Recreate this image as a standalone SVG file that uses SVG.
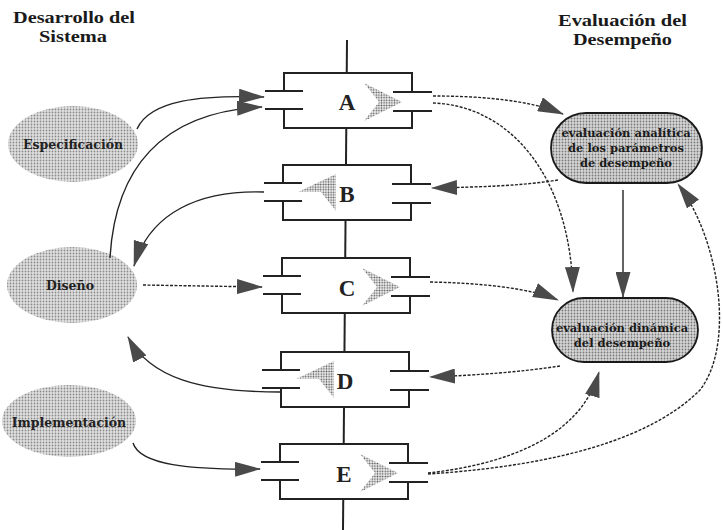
<svg xmlns="http://www.w3.org/2000/svg" xmlns:xlink="http://www.w3.org/1999/xlink" width="723" height="530" viewBox="0 0 723 530">
<style>
.title{font-family:"Liberation Serif","Times New Roman",serif;font-weight:bold;font-size:17px;fill:#1a1a1a}
.ltxt{font-family:"DejaVu Serif","Liberation Serif",serif;font-weight:bold;font-size:12.5px;fill:#222;text-anchor:middle}
.rtxt{font-family:"DejaVu Serif","Liberation Serif",serif;font-weight:bold;font-size:11.5px;fill:#1a1a1a;text-anchor:middle}
.let{font-family:"Liberation Serif","Times New Roman",serif;font-weight:bold;font-size:23px;fill:#222;text-anchor:middle}
.frame{fill:none;stroke:#222;stroke-width:2}
.con{fill:none;stroke:#222;stroke-width:1.4}
.dash{stroke-dasharray:3 1.5}
</style>
<defs>
<pattern id="stipL" width="3" height="3" patternUnits="userSpaceOnUse">
<rect width="3" height="3" fill="#e0e0e0"/><circle cx="1.5" cy="1.5" r="0.9" fill="#8a8a8a"/>
</pattern>
<pattern id="stipR" width="3" height="3" patternUnits="userSpaceOnUse">
<rect width="3" height="3" fill="#d6d6d6"/><circle cx="1.5" cy="1.5" r="0.9" fill="#777"/>
</pattern>
<pattern id="stipC" width="2.6" height="2.6" patternUnits="userSpaceOnUse">
<rect width="2.6" height="2.6" fill="#f4f4f4"/><circle cx="1.3" cy="1.3" r="0.85" fill="#555"/>
</pattern>
<marker id="ah" viewBox="0 0 26 15" refX="25" refY="7.5" markerWidth="26" markerHeight="15" markerUnits="userSpaceOnUse" orient="auto">
<path d="M0,0 L26,7.5 L0,15 z" fill="#4a4a4a"/>
</marker>
<g id="frm">
<rect x="0" y="0" width="128" height="55" fill="#fff"/>
<path class="frame" d="M0,18 V0 H128 V19 M128,38 V55 H0 V36 M-19,18 H19 M-19,36 H19 M109,19 H148 M109,38 H148"/>
</g>
<polygon id="chevR" points="80,10 118,29 80,48 95,29" fill="url(#stipC)"/>
<polygon id="chevL" points="15,27 53,9 53,46 38,27" fill="url(#stipC)"/>
</defs>
<rect width="723" height="530" fill="#fff"/>

<g id="titles">
<text class="title" x="13" y="23" textLength="122" lengthAdjust="spacingAndGlyphs">Desarrollo del</text>
<text class="title" x="39" y="42" textLength="68" lengthAdjust="spacingAndGlyphs">Sistema</text>
<text class="title" x="558" y="26" textLength="129" lengthAdjust="spacingAndGlyphs">Evaluación del</text>
<text class="title" x="573" y="45" textLength="99" lengthAdjust="spacingAndGlyphs">Desempeño</text>
</g>

<line x1="347" y1="40" x2="343" y2="530" stroke="#222" stroke-width="2"/>

<g id="boxA" transform="translate(284,73)">
<use xlink:href="#frm"/><use xlink:href="#chevR"/>
<text class="let" x="63" y="37">A</text>
</g>
<g id="boxB" transform="translate(283,165)">
<use xlink:href="#frm"/><use xlink:href="#chevL"/>
<text class="let" x="64" y="37">B</text>
</g>
<g id="boxC" transform="translate(282,258)">
<use xlink:href="#frm"/><use xlink:href="#chevR"/>
<text class="let" x="65" y="38">C</text>
</g>
<g id="boxD" transform="translate(281,352)">
<use xlink:href="#frm"/><use xlink:href="#chevL"/>
<text class="let" x="64" y="37">D</text>
</g>
<g id="boxE" transform="translate(280,444)">
<use xlink:href="#frm"/><use xlink:href="#chevR"/>
<text class="let" x="64" y="38">E</text>
</g>

<g id="especificacion">
<ellipse cx="73" cy="144" rx="65" ry="38" fill="url(#stipL)"/>
<text class="ltxt" x="73" y="149">Especificación</text>
</g>
<g id="diseno">
<ellipse cx="72" cy="285" rx="65" ry="38" fill="url(#stipL)"/>
<text class="ltxt" x="70" y="290">Diseño</text>
</g>
<g id="implementacion">
<ellipse cx="69" cy="421" rx="67" ry="36" fill="url(#stipL)"/>
<text class="ltxt" x="69" y="427">Implementación</text>
</g>

<g id="evalAnalitica">
<rect x="551" y="113" width="151" height="70" rx="35" ry="35" fill="url(#stipR)" stroke="#1a1a1a" stroke-width="1.8"/>
<text class="rtxt" x="626" y="137">evaluación analítica</text>
<text class="rtxt" x="626" y="152">de los parámetros</text>
<text class="rtxt" x="626" y="167">de desempeño</text>
</g>
<g id="evalDinamica">
<rect x="552" y="298" width="146" height="64" rx="32" ry="32" fill="url(#stipR)" stroke="#1a1a1a" stroke-width="1.8"/>
<text class="rtxt" x="622" y="332">evaluación dinámica</text>
<text class="rtxt" x="622" y="347">del desempeño</text>
</g>

<g id="connectors">
<path class="con" d="M137,129 C150,100 200,95 264,97" marker-end="url(#ah)"/>
<path class="con" d="M110,258 C115,170 160,112 262,107" marker-end="url(#ah)"/>
<path class="con" d="M264,192 C200,190 150,212 134,266" marker-end="url(#ah)"/>
<path class="con dash" d="M143,285 L262,287" marker-end="url(#ah)"/>
<path class="con" d="M280,392 C200,392 150,378 128,337" marker-end="url(#ah)"/>
<path class="con" d="M133,443 C140,465 190,470 260,469" marker-end="url(#ah)"/>
<path class="con dash" d="M433,96 C480,96 530,100 563,114" marker-end="url(#ah)"/>
<path class="con dash" d="M433,103 C505,105 570,170 573,292" marker-end="url(#ah)"/>
<path class="con dash" d="M558,180 C520,186 480,187 432,188" marker-end="url(#ah)"/>
<path class="con dash" d="M430,282 C480,283 530,288 558,300" marker-end="url(#ah)"/>
<path class="con" d="M623,190 L623,297" marker-end="url(#ah)"/>
<path class="con dash" d="M560,366 C520,372 480,375 430,377" marker-end="url(#ah)"/>
<path class="con dash" d="M428,473 C500,465 580,440 599,372" marker-end="url(#ah)"/>
<path class="con dash" d="M428,474 C520,468 640,450 700,390 C735,345 720,240 678,184" marker-end="url(#ah)"/>
</g>
</svg>
